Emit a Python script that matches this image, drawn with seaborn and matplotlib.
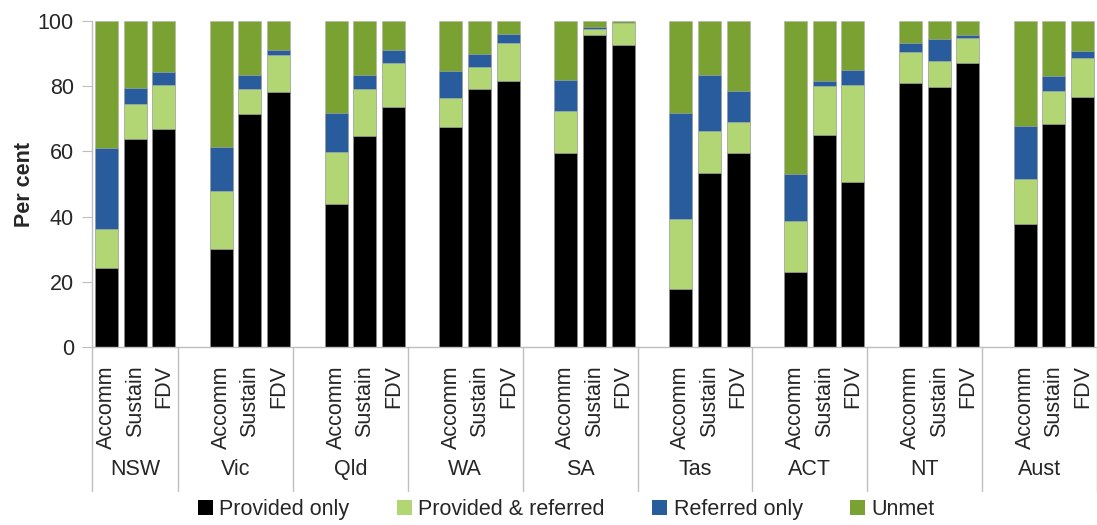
import pandas as pd
import matplotlib.pyplot as plt
import matplotlib.transforms as mtransforms
from matplotlib.patches import Patch
import seaborn as sns

# --- data (per cent of requests) ---
regions = ['NSW', 'Vic', 'Qld', 'WA', 'SA', 'Tas', 'ACT', 'NT', 'Aust']
services = ['Accomm', 'Sustain', 'FDV']

provided_only = [24.2, 63.8, 66.9, 30.1, 71.5, 78.2, 43.9, 64.7, 73.6,
                 67.5, 79.1, 81.6, 59.5, 95.7, 92.6, 17.7, 53.3, 59.4,
                 22.9, 64.9, 50.7, 81.1, 79.9, 87.0, 37.6, 68.5, 76.7]
provided_referred = [12.0, 10.7, 13.5, 17.8, 7.6, 11.4, 15.9, 14.4, 13.5,
                     8.9, 6.8, 11.7, 12.9, 1.8, 6.7, 21.7, 12.9, 9.5,
                     15.8, 15.1, 29.6, 9.5, 7.9, 7.9, 13.8, 9.9, 11.8]
referred_only = [24.8, 4.9, 4.0, 13.4, 4.3, 1.5, 12.0, 4.3, 4.0,
                 8.3, 4.0, 2.7, 9.5, 0.7, 0.0, 32.3, 17.2, 9.5,
                 14.5, 1.6, 4.8, 2.7, 6.7, 0.8, 16.3, 4.7, 2.4]
unmet = [39.0, 20.6, 15.6, 38.7, 16.6, 8.9, 28.2, 16.6, 8.9,
         15.3, 10.1, 4.0, 18.1, 1.8, 0.7, 28.3, 16.6, 21.6,
         46.8, 18.4, 14.9, 6.7, 5.5, 4.3, 32.3, 16.9, 9.1]

series = ['Provided only', 'Provided & referred', 'Referred only', 'Unmet']
colors = ['#000000', '#b3d675', '#285c9c', '#7aa232']

# --- build table ---
rows = []
for i, reg in enumerate(regions):
    for j, svc in enumerate(services):
        k = i * 3 + j
        rows.append({'slot': f'{reg}|{svc}', 'region': reg, 'service': svc,
                     'Provided only': provided_only[k],
                     'Provided & referred': provided_referred[k],
                     'Referred only': referred_only[k],
                     'Unmet': unmet[k]})
df = pd.DataFrame(rows)

# cumulative tops for stacking
df['c1'] = df['Provided only']
df['c2'] = df['c1'] + df['Provided & referred']
df['c3'] = df['c2'] + df['Referred only']
df['c4'] = df['c3'] + df['Unmet']

# slot order: blank slot in front of every region except the first
order = []
for i, reg in enumerate(regions):
    if i > 0:
        order.append(f'gap{i}')
    for svc in services:
        order.append(f'{reg}|{svc}')

sns.set_theme(style="white")
plt.rcParams['font.family'] = ['Liberation Sans', 'DejaVu Sans']

fig = plt.figure(figsize=(10.97, 5.25), dpi=100)
ax = fig.add_axes([0.0839, 0.339, 0.9161, 0.621])

for col, c in zip(['c4', 'c3', 'c2', 'c1'], colors[::-1]):
    sns.barplot(data=df, x='slot', y=col, order=order, color=c, width=0.8,
                errorbar=None, edgecolor='#b0b0b0', linewidth=0.4, ax=ax,
                saturation=1)

ax.set_xlim(-0.5, len(order) - 0.5)
ax.set_ylim(0, 100)
ax.set_yticks([0, 20, 40, 60, 80, 100])
ax.tick_params(axis='y', labelsize=15.5, length=7, width=0.8, color='#bfbfbf',
               left=True, pad=6)
ax.set_ylabel('Per cent', fontsize=15.5, fontweight='bold', labelpad=2)
ax.set_xlabel('')

# sub-category labels
bar_pos = [order.index(s) for s in df['slot']]
ax.set_xticks(bar_pos)
ax.set_xticklabels(df['service'], rotation=90, fontsize=15.5, va='top',
                   ha='center')
ax.tick_params(axis='x', length=0, pad=13)

for side in ['top', 'right']:
    ax.spines[side].set_visible(False)
for side in ['left', 'bottom']:
    ax.spines[side].set_color('#bfbfbf')
    ax.spines[side].set_linewidth(1.0)

# group labels and separators
trans = mtransforms.blended_transform_factory(ax.transData, ax.transAxes)
start = -0.5
for i, reg in enumerate(regions):
    end = order.index(f'{reg}|FDV') + 0.5
    ax.text((start + end) / 2, -0.377, reg, transform=trans, fontsize=15.5,
            ha='center', va='center')
    ax.plot([end, end], [0, -0.442], transform=trans, color='#bfbfbf',
            lw=1.0, clip_on=False)
    start = end
ax.plot([-0.5, -0.5], [0, -0.442], transform=trans, color='#bfbfbf',
        lw=1.0, clip_on=False)

# legend
handles = [Patch(facecolor=c, edgecolor='none') for c in colors]
fig.legend(handles, series, loc='center', bbox_to_anchor=(0.516, 0.029),
           ncol=4, frameon=False, fontsize=15.5, handlelength=0.7,
           handleheight=0.7, handletextpad=0.3, columnspacing=2.2)

plt.savefig('out.png', dpi=100)
plt.close(fig)
